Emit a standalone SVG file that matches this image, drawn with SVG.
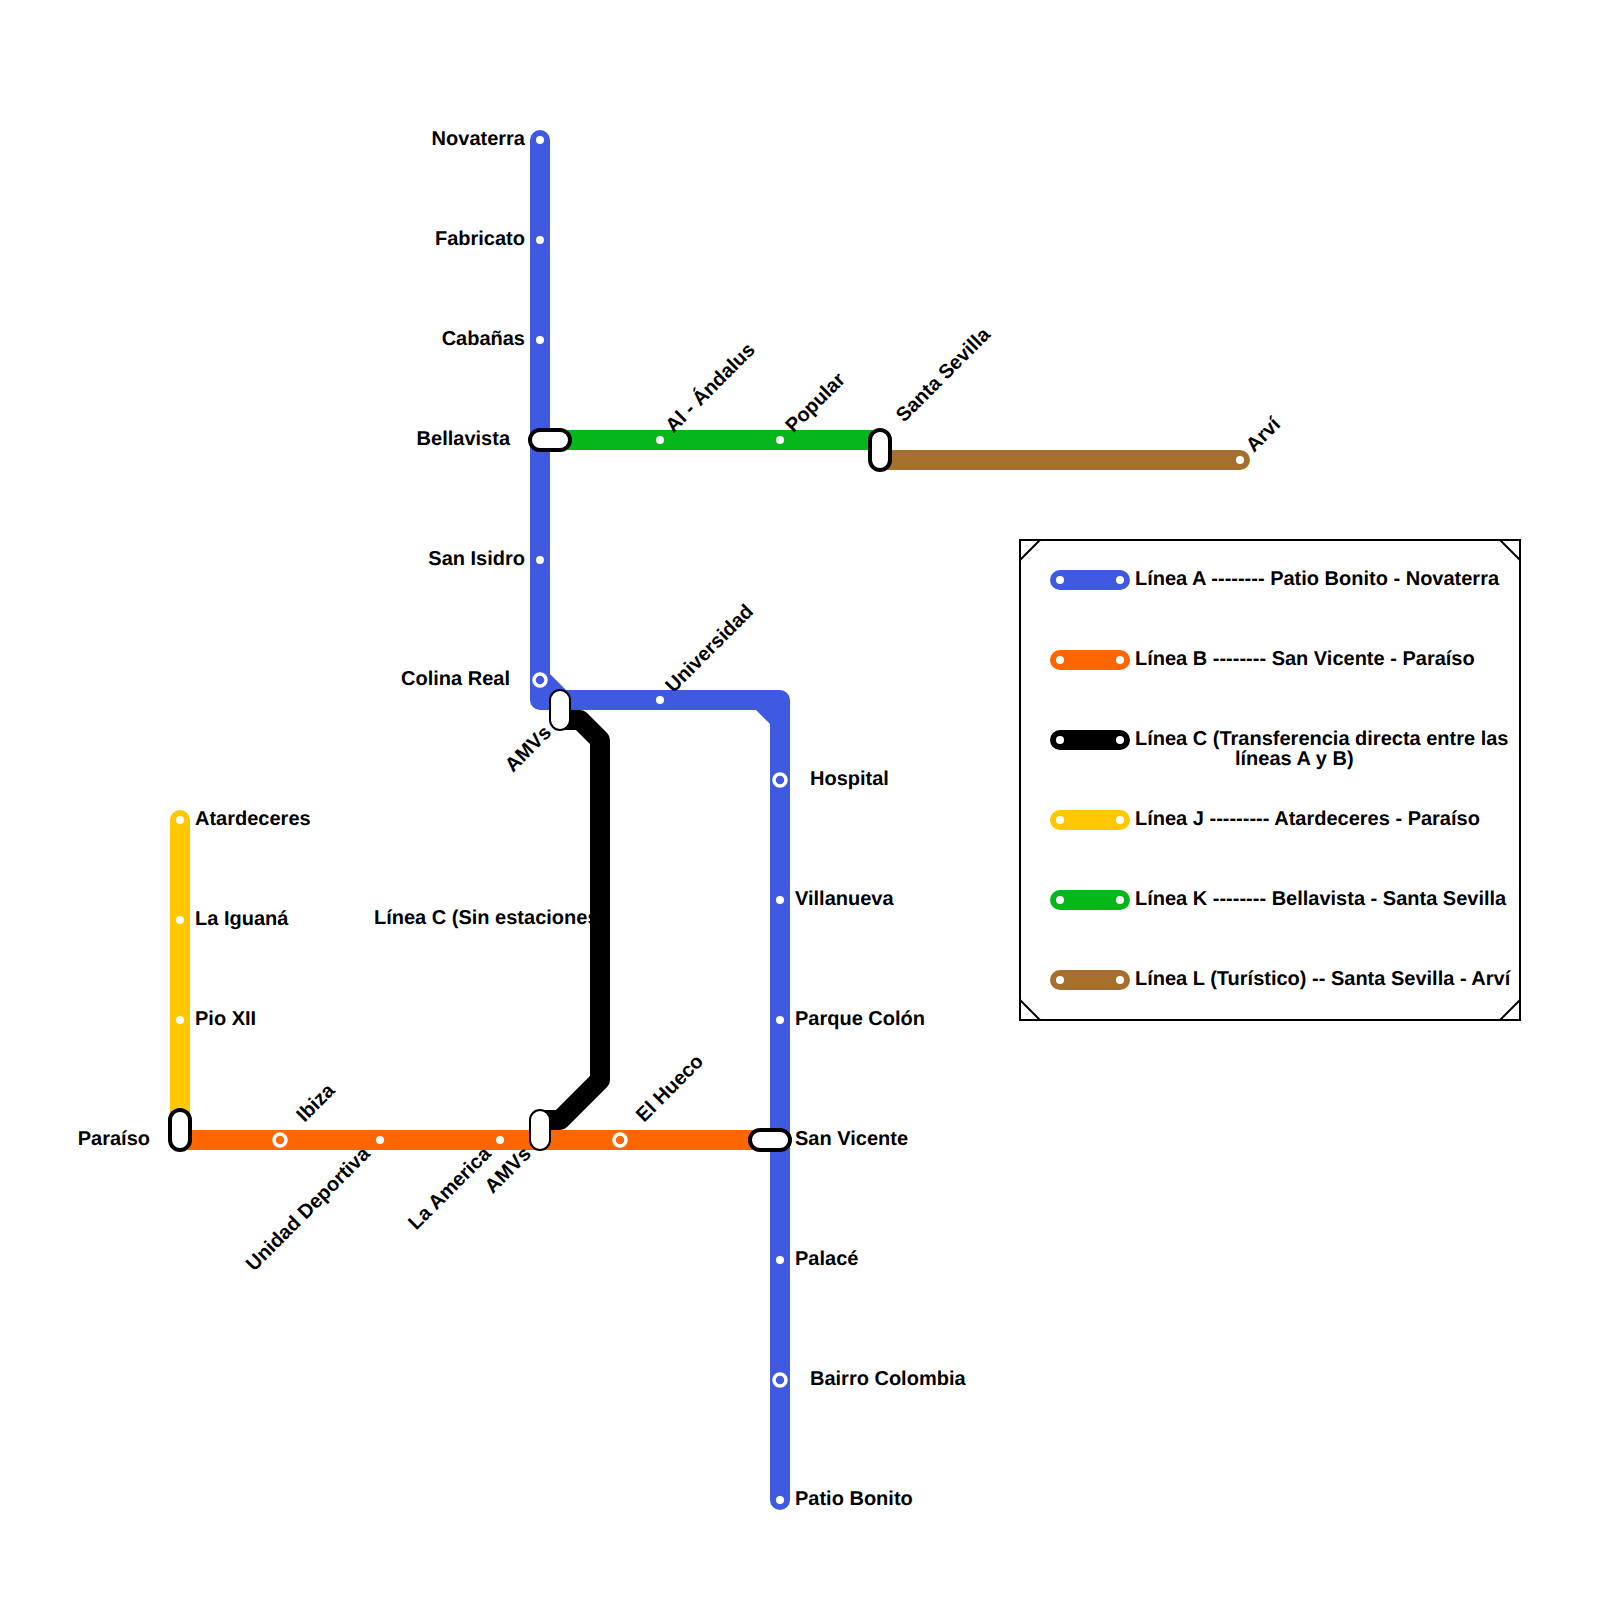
<svg xmlns="http://www.w3.org/2000/svg" width="1600" height="1600" viewBox="0 0 1600 1600">
<style>
text{font-family:"Liberation Sans",Arial,sans-serif;font-weight:700;font-size:20px;fill:#000;text-rendering:geometricPrecision}
.e{text-anchor:end}
.l{fill:none;stroke-width:20;stroke-linecap:round;stroke-linejoin:round}
.d{fill:#fff}
.r{fill:none;stroke:#fff;stroke-width:3.5}
.i{fill:#fff;stroke:#000;stroke-width:4}
.t{fill:#fff;stroke:#000;stroke-width:2}
</style>
<rect width="1600" height="1600" fill="#fff"/>
<g id="line-labels-under"><text x="374" y="924">Línea C (Sin estaciones)</text></g>
<g id="connectors">
<path id="line-a" class="l" stroke="#3f5ae0" d="M540 140V700H780V1500"/>
<path id="line-a-inner-1" fill="#3f5ae0" d="M550 674L568 692H550Z"/>
<path id="line-a-inner-2" fill="#3f5ae0" d="M755 709H771V725Z"/>
<path id="line-j" class="l" stroke="#ffc800" d="M180 820V1130"/>
<path id="line-k" class="l" stroke="#06b71b" d="M550 440H880"/>
<path id="line-l" class="l" stroke="#a66f2d" d="M880 460H1240"/>
<path id="line-c" class="l" stroke="#000" d="M560 720H580L600 740V1080L560 1120H540"/>
<path id="line-b" class="l" stroke="#ff6600" d="M180 1140H770" style="stroke-linecap:butt"/>
</g>
<g id="st-novaterra"><circle class="d" cx="540" cy="140" r="4"/><text class="e" x="525" y="145">Novaterra</text></g>
<g id="st-fabricato"><circle class="d" cx="540" cy="240" r="4"/><text class="e" x="525" y="245">Fabricato</text></g>
<g id="st-cabanas"><circle class="d" cx="540" cy="340" r="4"/><text class="e" x="525" y="345">Cabañas</text></g>
<g id="st-bellavista"><rect class="i" x="530" y="430" width="40" height="20" rx="10"/><text class="e" x="510" y="445">Bellavista</text></g>
<g id="st-san-isidro"><circle class="d" cx="540" cy="560" r="4"/><text class="e" x="525" y="565">San Isidro</text></g>
<g id="st-colina-real"><circle class="r" cx="540" cy="680" r="6"/><text class="e" x="510" y="685">Colina Real</text></g>
<g id="st-universidad"><circle class="d" cx="660" cy="700" r="4"/><text transform="translate(673.5 693.5) rotate(-45)">Universidad</text></g>
<g id="st-amvs-top"><rect class="t" x="550" y="690" width="20" height="40" rx="10"/><text transform="translate(513 773) rotate(-45)">AMVs</text></g>
<g id="st-hospital"><circle class="r" cx="780" cy="780" r="6"/><text x="810" y="785">Hospital</text></g>
<g id="st-villanueva"><circle class="d" cx="780" cy="900" r="4"/><text x="795" y="905">Villanueva</text></g>
<g id="st-parque-colon"><circle class="d" cx="780" cy="1020" r="4"/><text x="795" y="1025">Parque Colón</text></g>
<g id="st-san-vicente"><rect class="i" x="750" y="1130" width="40" height="20" rx="10"/><text x="795" y="1145">San Vicente</text></g>
<g id="st-palace"><circle class="d" cx="780" cy="1260" r="4"/><text x="795" y="1265">Palacé</text></g>
<g id="st-bairro-colombia"><circle class="r" cx="780" cy="1380" r="6"/><text x="810" y="1385">Bairro Colombia</text></g>
<g id="st-patio-bonito"><circle class="d" cx="780" cy="1500" r="4"/><text x="795" y="1505">Patio Bonito</text></g>
<g id="st-al-andalus"><circle class="d" cx="660" cy="440" r="4"/><text transform="translate(673.5 433.5) rotate(-45)">Al - Ándalus</text></g>
<g id="st-popular"><circle class="d" cx="780" cy="440" r="4"/><text transform="translate(793.5 433.5) rotate(-45)">Popular</text></g>
<g id="st-santa-sevilla"><rect class="i" x="870" y="430" width="20" height="40" rx="10"/><text transform="translate(904 423) rotate(-45)">Santa Sevilla</text></g>
<g id="st-arvi"><circle class="d" cx="1240" cy="460" r="4"/><text transform="translate(1254 453) rotate(-45)">Arví</text></g>
<g id="st-atardeceres"><circle class="d" cx="180" cy="820" r="4"/><text x="195" y="825">Atardeceres</text></g>
<g id="st-la-iguana"><circle class="d" cx="180" cy="920" r="4"/><text x="195" y="925">La Iguaná</text></g>
<g id="st-pio-xii"><circle class="d" cx="180" cy="1020" r="4"/><text x="195" y="1025">Pio XII</text></g>
<g id="st-paraiso"><rect class="i" x="170" y="1110" width="20" height="40" rx="10"/><text class="e" x="150" y="1145">Paraíso</text></g>
<g id="st-ibiza"><circle class="r" cx="280" cy="1140" r="6"/><text transform="translate(304.5 1123) rotate(-45)">Ibiza</text></g>
<g id="st-unidad-deportiva"><circle class="d" cx="380" cy="1140" r="4"/><text class="e" transform="translate(371 1155) rotate(-45)">Unidad Deportiva</text></g>
<g id="st-la-america"><circle class="d" cx="500" cy="1140" r="4"/><text class="e" transform="translate(492 1155) rotate(-45)">La America</text></g>
<g id="st-amvs-bottom"><rect class="t" x="530" y="1110" width="20" height="40" rx="10"/><text class="e" transform="translate(532 1155) rotate(-45)">AMVs</text></g>
<g id="st-el-hueco"><circle class="r" cx="620" cy="1140" r="6"/><text transform="translate(644 1123) rotate(-45)">El Hueco</text></g>
<g id="legend">
<rect x="1020" y="540" width="500" height="480" fill="none" stroke="#000" stroke-width="2"/>
<path fill="none" stroke="#000" stroke-width="2" d="M1020 560L1040 540M1500 540L1520 560M1020 1000L1040 1020M1500 1020L1520 1000"/>
<path class="l" stroke="#3f5ae0" d="M1060 580H1120"/><circle class="d" cx="1060" cy="580" r="4"/><circle class="d" cx="1120" cy="580" r="4"/>
<text x="1135" y="584.500">Línea A -------- Patio Bonito - Novaterra</text>
<path class="l" stroke="#ff6600" d="M1060 660H1120"/><circle class="d" cx="1060" cy="660" r="4"/><circle class="d" cx="1120" cy="660" r="4"/>
<text x="1135" y="664.500">Línea B -------- San Vicente - Paraíso</text>
<path class="l" stroke="#000" d="M1060 740H1120"/><circle class="d" cx="1060" cy="740" r="4"/><circle class="d" cx="1120" cy="740" r="4"/>
<text x="1135" y="744.500">Línea C (Transferencia directa entre las</text>
<text x="1235" y="764.500">líneas A y B)</text>
<path class="l" stroke="#ffc800" d="M1060 820H1120"/><circle class="d" cx="1060" cy="820" r="4"/><circle class="d" cx="1120" cy="820" r="4"/>
<text x="1135" y="824.500">Línea J --------- Atardeceres - Paraíso</text>
<path class="l" stroke="#06b71b" d="M1060 900H1120"/><circle class="d" cx="1060" cy="900" r="4"/><circle class="d" cx="1120" cy="900" r="4"/>
<text x="1135" y="904.500">Línea K -------- Bellavista - Santa Sevilla</text>
<path class="l" stroke="#a66f2d" d="M1060 980H1120"/><circle class="d" cx="1060" cy="980" r="4"/><circle class="d" cx="1120" cy="980" r="4"/>
<text x="1135" y="984.500">Línea L (Turístico) -- Santa Sevilla - Arví</text>
</g>
</svg>
